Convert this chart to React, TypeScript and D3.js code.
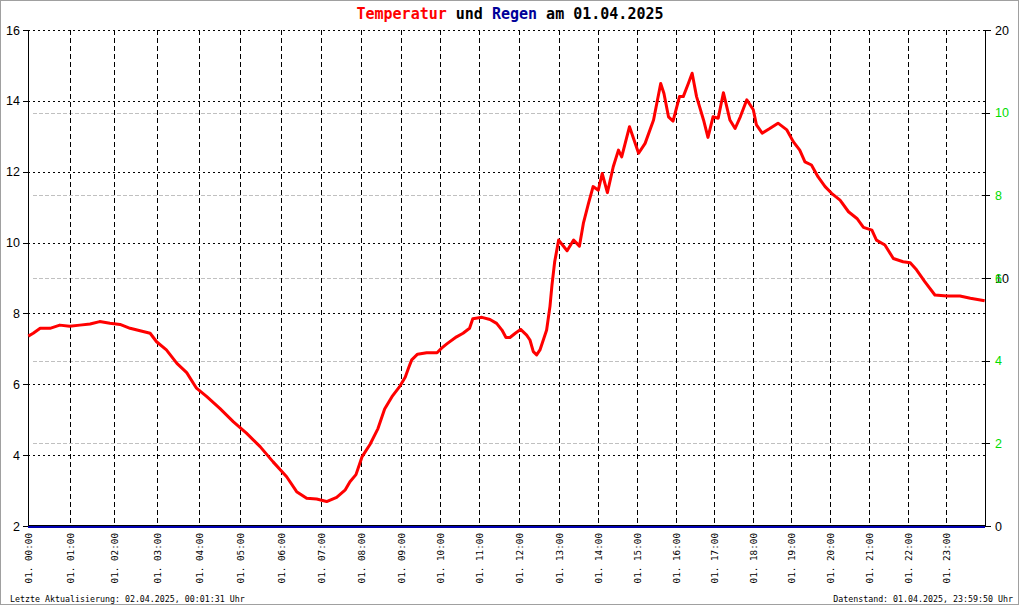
import React from 'react';
import * as d3 from 'd3';

// samples recorded per hour (x axis is sample based, so hours are not equally wide)
const samplesPerHour = [42, 44, 43, 42, 41, 41, 40, 40, 40, 39, 39, 40, 40, 39, 39, 39, 38, 39, 38, 39, 39, 39, 38, 39];
const hourTicks = d3.range(24);
const tempTicks = [2, 4, 6, 8, 10, 12, 14, 16];
const rightTicks = [0, 10, 20];
const rainTicks = [2, 4, 6, 8, 10];

const tempTimes = [
  '00:00', '00:07', '00:17', '00:31', '00:45', '00:59', '01:13', '01:27', '01:40', '01:54',
  '02:08', '02:22', '02:36', '02:50', '02:59', '03:13', '03:28', '03:42', '03:56', '04:11',
  '04:30', '04:50', '05:09', '05:29', '05:48', '06:08', '06:23', '06:38', '06:53', '07:08',
  '07:23', '07:36', '07:43', '07:52', '08:01', '08:13', '08:25', '08:35', '08:46', '08:58',
  '09:06', '09:11', '09:16', '09:25', '09:39', '09:55', '10:02', '10:10', '10:25', '10:35',
  '10:45', '10:50', '11:04', '11:16', '11:26', '11:34', '11:40', '11:46', '11:54', '12:02',
  '12:11', '12:16', '12:21', '12:26', '12:31', '12:41', '12:46', '12:49', '12:53', '12:59',
  '13:12', '13:22', '13:31', '13:37', '13:45', '13:52', '14:00', '14:06', '14:14', '14:23',
  '14:31', '14:36', '14:48', '15:02', '15:12', '15:25', '15:36', '15:41', '15:48', '15:55',
  '16:05', '16:11', '16:19', '16:25', '16:32', '16:43', '16:50', '16:58', '17:06', '17:14',
  '17:24', '17:32', '17:40', '17:50', '18:00', '18:05', '18:14', '18:26', '18:39', '18:53',
  '19:03', '19:13', '19:21', '19:31', '19:41', '19:52', '20:02', '20:15', '20:28', '20:41',
  '20:51', '21:04', '21:11', '21:24', '21:37', '21:52', '22:03', '22:13', '22:26', '22:42',
  '23:01', '23:21', '23:37', '23:59',
];
const tempValues = [
  7.36, 7.44, 7.58, 7.58, 7.67, 7.64, 7.67, 7.70, 7.77, 7.72,
  7.69, 7.58, 7.51, 7.44, 7.20, 6.97, 6.59, 6.33, 5.89, 5.65,
  5.32, 4.94, 4.62, 4.24, 3.81, 3.39, 2.97, 2.78, 2.76, 2.69,
  2.81, 3.02, 3.25, 3.45, 3.95, 4.30, 4.75, 5.30, 5.65, 5.95,
  6.20, 6.45, 6.69, 6.85, 6.89, 6.89, 7.02, 7.14, 7.34, 7.44,
  7.58, 7.85, 7.89, 7.83, 7.72, 7.53, 7.32, 7.32, 7.44, 7.55,
  7.39, 7.25, 6.92, 6.83, 6.97, 7.53, 8.20, 8.80, 9.45, 10.07,
  9.77, 10.07, 9.90, 10.54, 11.11, 11.58, 11.48, 11.95, 11.41, 12.14,
  12.61, 12.42, 13.27, 12.52, 12.80, 13.46, 14.49, 14.21, 13.55, 13.43,
  14.12, 14.12, 14.49, 14.78, 14.12, 13.46, 12.97, 13.55, 13.51, 14.23,
  13.46, 13.22, 13.55, 14.03, 13.75, 13.32, 13.09, 13.22, 13.37, 13.18,
  12.85, 12.61, 12.28, 12.19, 11.86, 11.58, 11.39, 11.20, 10.87, 10.68,
  10.43, 10.35, 10.07, 9.93, 9.55, 9.46, 9.43, 9.23, 8.90, 8.52,
  8.49, 8.49, 8.43, 8.36,
];
const rainTimes = ['00:00', '23:59'];
const rainValues = [0, 0];

const W = 1020;
const H = 606;
const LEFT = 28.3;
const RIGHT = 985.3;
const TOP = 30;
const BOTTOM = 526;

const toHours = (t: string) => {
  const [h, m] = t.split(':').map(Number);
  return h + m / 60;
};

export default function App() {
  const cum = [0];
  samplesPerHour.forEach((s) => cum.push(cum[cum.length - 1] + s));
  const hourToSample = d3.scaleLinear().domain(d3.range(25)).range(cum);
  const xs = d3.scaleLinear().domain([0, cum[cum.length - 1]]).range([LEFT, RIGHT]);
  const X = (h: number) => xs(hourToSample(h));
  const yT = d3.scaleLinear().domain([2, 16]).range([BOTTOM, TOP]);
  const yR = d3.scaleLinear().domain([0, 12]).range([BOTTOM, TOP]);
  const y20 = d3.scaleLinear().domain([0, 20]).range([BOTTOM, TOP]);

  const px = (v: number) => Math.round(v) + 0.5;

  const tempData = tempTimes.map((t, i) => ({ h: toHours(t), v: tempValues[i] }));
  const rainData = rainTimes.map((t, i) => ({ h: toHours(t) + (t === '23:59' ? 1 / 60 : 0), v: rainValues[i] }));

  const tempLine = d3
    .line<{ h: number; v: number }>()
    .x((d) => X(d.h))
    .y((d) => yT(d.v))
    .curve(d3.curveLinear);
  const rainLine = d3
    .line<{ h: number; v: number }>()
    .x((d) => X(d.h))
    .y((d) => yR(d.v) + 1);

  const mono = "'DejaVu Sans Mono', 'Liberation Mono', monospace";
  const sans = "'Liberation Sans', Arial, sans-serif";
  const pad = (n: number) => (n < 10 ? '0' + n : '' + n);

  return (
    <svg
      width={W}
      height={H}
      viewBox={`0 0 ${W} ${H}`}
      style={{ position: 'absolute', left: 0, top: 0, background: '#fff' }}
    >
      <rect x={0} y={0} width={W} height={H} fill="#fff" />
      <rect x={0.5} y={0.5} width={1018} height={604} fill="none" stroke="#a0a0a0" strokeWidth={1} />

      {/* title */}
      <text x={510} y={19} textAnchor="middle" fontFamily={mono} fontSize={15} fontWeight="bold">
        <tspan fill="#ff0000">Temperatur</tspan>
        <tspan fill="#000"> und </tspan>
        <tspan fill="#000099">Regen</tspan>
        <tspan fill="#000"> am 01.04.2025</tspan>
      </text>

      {/* rain grid (grey dashed) */}
      <g shapeRendering="crispEdges">
        {rainTicks.map((r) => (
          <line
            key={'rg' + r}
            x1={LEFT + 5}
            x2={RIGHT - 3}
            y1={px(yR(r))}
            y2={px(yR(r))}
            stroke="#c0c0c0"
            strokeDasharray="4,2"
          />
        ))}
        {/* temperature grid (black dotted) */}
        {tempTicks.slice(1).map((t) => (
          <line
            key={'tg' + t}
            x1={LEFT}
            x2={RIGHT}
            y1={px(yT(t))}
            y2={px(yT(t))}
            stroke="#000"
            strokeDasharray="2,3"
          />
        ))}
        {/* hour grid (black dashed) */}
        {hourTicks.slice(1).map((h) => (
          <line
            key={'hg' + h}
            x1={px(X(h))}
            x2={px(X(h))}
            y1={TOP}
            y2={BOTTOM}
            stroke="#000"
            strokeDasharray="5,3"
          />
        ))}
        {/* axes */}
        <line x1={px(LEFT)} x2={px(LEFT)} y1={TOP} y2={BOTTOM + 1} stroke="#000" />
        <line x1={px(RIGHT)} x2={px(RIGHT)} y1={TOP} y2={BOTTOM + 1} stroke="#000" />
        <line x1={LEFT} x2={RIGHT} y1={BOTTOM - 0.5} y2={BOTTOM - 0.5} stroke="#000" />
        {tempTicks.map((t) => (
          <line key={'lt' + t} x1={LEFT - 5} x2={LEFT} y1={px(yT(t))} y2={px(yT(t))} stroke="#000" />
        ))}
        {rightTicks.map((t) => (
          <line key={'rt' + t} x1={RIGHT} x2={RIGHT + 6} y1={px(y20(t))} y2={px(y20(t))} stroke="#000" />
        ))}
        {rainTicks.map((t) => (
          <line key={'rrt' + t} x1={RIGHT - 3} x2={RIGHT + 5} y1={px(yR(t))} y2={px(yR(t))} stroke="#000" />
        ))}
      </g>

      {/* rain line */}
      <path d={rainLine(rainData) || ''} fill="none" stroke="#0000b0" strokeWidth={2} shapeRendering="crispEdges" />

      {/* temperature line */}
      <path
        d={tempLine(tempData) || ''}
        fill="none"
        stroke="#ff0000"
        strokeWidth={3}
        strokeLinejoin="round"
        strokeLinecap="butt"
      />

      {/* left labels */}
      {tempTicks.map((t) => (
        <text
          key={'ll' + t}
          x={20}
          y={yT(t) + 4.5}
          textAnchor="end"
          fontFamily={sans}
          fontSize={12.5}
          fill="#000"
        >
          {t}
        </text>
      ))}
      {/* right labels */}
      {rightTicks.map((t) => (
        <text key={'rl' + t} x={995} y={y20(t) + 4.5} fontFamily={sans} fontSize={12.5} fill="#000">
          {t}
        </text>
      ))}
      {rainTicks.map((t) => (
        <text key={'rrl' + t} x={995} y={yR(t) + 4.5} fontFamily={sans} fontSize={12.5} fill="#00dd00">
          {t}
        </text>
      ))}

      {/* hour labels */}
      {hourTicks.map((h) => (
        <text
          key={'hl' + h}
          transform={`translate(${X(h)},533) rotate(-90)`}
          textAnchor="end"
          dominantBaseline="central"
          fontFamily={mono}
          fontSize={9.3}
          fill="#000"
        >
          {`01. ${pad(h)}:00`}
        </text>
      ))}

      {/* footer */}
      <text x={10} y={601.5} fontFamily={mono} fontSize={8.3} fill="#000">
        Letzte Aktualisierung: 02.04.2025, 00:01:31 Uhr
      </text>
      <text x={1013} y={601.5} textAnchor="end" fontFamily={mono} fontSize={8.3} fill="#000">
        Datenstand: 01.04.2025, 23:59:50 Uhr
      </text>
    </svg>
  );
}
